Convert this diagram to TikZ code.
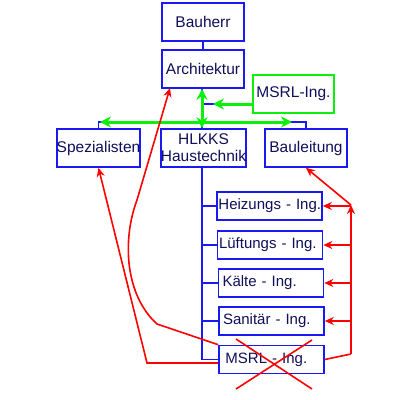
\documentclass[tikz,border=0pt]{standalone}
\usepackage{fontspec}
\setmainfont{Liberation Sans}
\usetikzlibrary{arrows.meta}
\definecolor{txt}{RGB}{15,15,90}
\definecolor{bblue}{RGB}{25,25,245}
\definecolor{gr}{RGB}{10,240,10}
\definecolor{rd}{RGB}{255,0,0}
\begin{document}
\begin{tikzpicture}[x=1pt,y=-1pt,
 box/.style={draw=bblue,line width=1.6pt,fill=white,text=txt,font=\fontsize{15.5}{17}\selectfont,minimum width=82pt,minimum height=38pt,inner sep=0pt},
 ibox/.style={box,font=\fontsize{15}{17}\selectfont,minimum width=105pt,minimum height=28pt,text width=102pt,inner xsep=1.5pt,align=left},
 gbox/.style={box,draw=gr},
 bl/.style={draw=bblue,line width=1.6pt},
 gl/.style={draw=gr,line width=3pt,-{Stealth[length=11pt,width=11pt]}},
 gll/.style={gl,{Stealth[length=11pt,width=11pt]}-{Stealth[length=11pt,width=11pt]}},
 rl/.style={draw=rd,line width=1.6pt},
 ra/.style={rl,-{Stealth[length=9pt,width=8pt]}}]
\useasboundingbox (0,0) rectangle (400,400);
% nodes
\node[box] (bauherr) at (203,22) {Bauherr};
\node[box] (arch) at (203,69) {Architektur};
\node[gbox,minimum width=81pt] (msrlg) at (293.5,94) {MSRL-Ing.};
\node[box,minimum width=81pt] (spez) at (98.5,148) {Spezialisten};
\node[box,minimum width=81pt,align=center] (hlkks) at (203.5,148) {HLKKS\\Haustechnik};
\node[box] (baul) at (306,148) {Bauleitung};
\node[ibox] (heiz) at (269.5,206) {\mbox{Heizungs - Ing.}};
\node[ibox] (lueft) at (270,245) {\mbox{L\"uftungs - Ing.}};
\node[ibox] (kaelte) at (271,283) {\mbox{\,K\"alte - Ing.}};
\node[ibox] (san) at (271.5,321) {\mbox{\,Sanit\"ar - Ing.}};
\node[ibox] (msrlb) at (271.5,359.5) {\mbox{\,\,MSRL - Ing.}};
% coordinates
\coordinate (j1) at (202,104);
\coordinate (bus) at (202,122);
\coordinate (gtip) at (213,104);
\coordinate (gL) at (100,122);
\coordinate (gR) at (292,122);
\coordinate (rv) at (351,205);
\coordinate (rb) at (351,354);
\coordinate (r1) at (147,363);
\coordinate (c0) at (157,324);
\coordinate (c1) at (137,200);
\coordinate (atip) at (170,88);
\coordinate (x1) at (236,339);
\coordinate (x2) at (312,389);
\coordinate (x3) at (312,340);
\coordinate (x4) at (236,389);
% blue connectors
\draw[bl] (bauherr.south) -- (arch.north);
\draw[bl] (arch.south -| j1) -- (hlkks.north -| j1);
\draw[bl] (j1) -- (msrlg.west |- j1);
\draw[bl] (spez.north) -- (spez.north |- bus) -- (baul.north |- bus) -- (baul.north);
\draw[bl] (hlkks.south -| j1) -- (j1 |- msrlb.west) -- (msrlb.west);
\foreach \n in {heiz,lueft,kaelte,san} \draw[bl] (j1 |- \n.west) -- (\n.west);
% green
\draw[gll] (arch.south -| j1) -- (hlkks.north -| j1);
\draw[gl] (msrlg.west |- j1) -- (gtip);
\draw[gll] (gL) -- (gR);
% red
\draw[rl] (msrlb.east) -- (rb);
\draw[ra] (rb) -- (rv);
\draw[ra] (rv) -- (baul.south);
\foreach \n in {heiz,lueft,kaelte,san} \draw[ra] (rv |- \n.east) -- (\n.east);
\draw[ra] (msrlb.west |- r1) -- (r1) -- (spez.south);
\draw[ra] (msrlb.north west) -- (c0) .. controls (125,295) and (122,240) .. (c1) -- (atip);
\draw[rl] (x1) -- (x2);
\draw[rl] (x3) -- (x4);
\end{tikzpicture}
\end{document}
